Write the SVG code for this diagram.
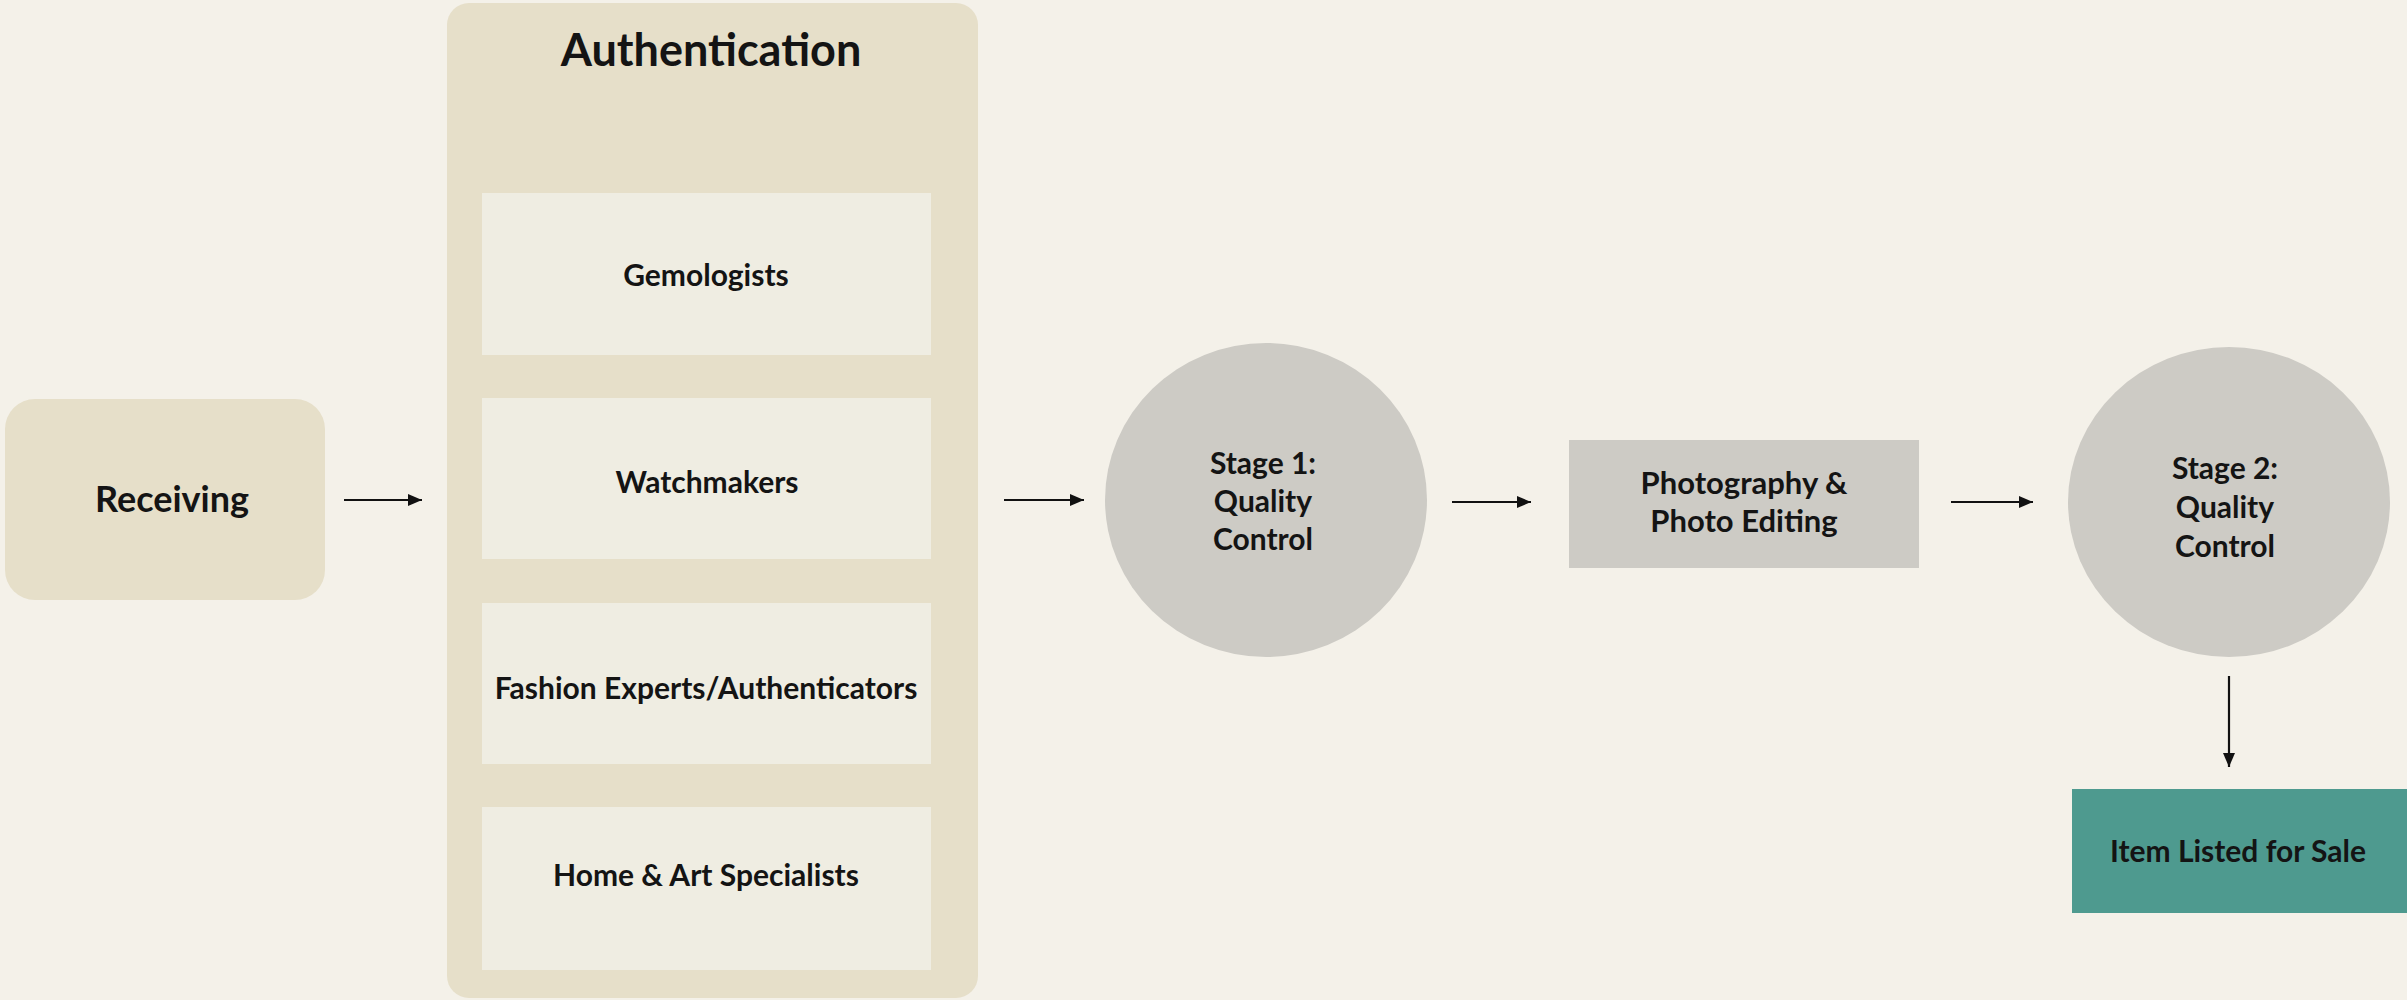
<svg xmlns="http://www.w3.org/2000/svg" width="2407" height="1000" viewBox="0 0 2407 1000">
  <defs>
    <marker id="head" viewBox="0 0 14 12" refX="14" refY="6" markerWidth="14" markerHeight="12" markerUnits="userSpaceOnUse" orient="auto">
      <path d="M0,0 L14,6 L0,12 z" fill="#111"/>
    </marker>
  </defs>
  <style>
    text { font-family: Lato, "Open Sans", "Liberation Sans", sans-serif; font-weight: 700; fill: #141414; text-anchor: middle; }
    .tan { fill: #e6dfc9; }
    .sub { fill: #efede2; }
    .grey { fill: #cdcbc5; }
    .teal { fill: #4e9a8f; }
    .conn { stroke: #111; stroke-width: 2.2; fill: none; marker-end: url(#head); }
    .lbl { font-size: 30px; }
  </style>

  <rect width="2407" height="1000" fill="#f4f1e9"/>

  <g id="receiving">
    <rect class="tan" x="5" y="399" width="320" height="201" rx="30"/>
    <text x="172" y="512" font-size="36">Receiving</text>
  </g>

  <g id="authentication">
    <rect class="tan" x="447" y="3" width="531" height="995" rx="22"/>
    <text x="711" y="66" font-size="45">Authentication</text>
  </g>

  <g id="gemologists">
    <rect class="sub" x="482" y="193" width="449" height="162"/>
    <text class="lbl" x="706" y="286">Gemologists</text>
  </g>

  <g id="watchmakers">
    <rect class="sub" x="482" y="398" width="449" height="161"/>
    <text class="lbl" x="707" y="493">Watchmakers</text>
  </g>

  <g id="fashion">
    <rect class="sub" x="482" y="603" width="449" height="161"/>
    <text class="lbl" x="706" y="699">Fashion Experts/Authenticators</text>
  </g>

  <g id="home-art">
    <rect class="sub" x="482" y="807" width="449" height="163"/>
    <text class="lbl" x="706" y="886">Home &amp; Art Specialists</text>
  </g>

  <g id="stage1">
    <ellipse class="grey" cx="1266" cy="500" rx="161" ry="157"/>
    <text class="lbl" x="1263" y="474">Stage 1:</text>
    <text class="lbl" x="1263" y="512">Quality</text>
    <text class="lbl" x="1263" y="550">Control</text>
  </g>

  <g id="photography">
    <rect class="grey" x="1569" y="440" width="350" height="128"/>
    <text x="1744" y="494" font-size="31">Photography &amp;</text>
    <text x="1744" y="532" font-size="31">Photo Editing</text>
  </g>

  <g id="stage2">
    <ellipse class="grey" cx="2229" cy="502" rx="161" ry="155"/>
    <text class="lbl" x="2225" y="479">Stage 2:</text>
    <text class="lbl" x="2225" y="518">Quality</text>
    <text class="lbl" x="2225" y="557">Control</text>
  </g>

  <g id="listed">
    <rect class="teal" x="2072" y="789" width="335" height="124"/>
    <text x="2238" y="862" font-size="30">Item Listed for Sale</text>
  </g>

  <g id="connectors">
    <line class="conn" x1="344" y1="500" x2="422" y2="500"/>
    <line class="conn" x1="1004" y1="500" x2="1084" y2="500"/>
    <line class="conn" x1="1452" y1="502" x2="1531" y2="502"/>
    <line class="conn" x1="1951" y1="502" x2="2033" y2="502"/>
    <line class="conn" x1="2229" y1="676" x2="2229" y2="767"/>
  </g>
</svg>
